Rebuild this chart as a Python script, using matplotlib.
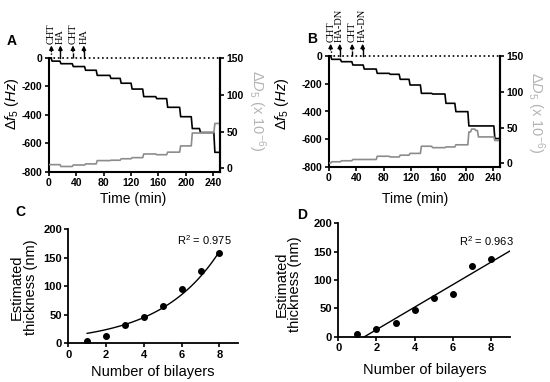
import numpy as np
import matplotlib
matplotlib.use("Agg")
import matplotlib.pyplot as plt
import matplotlib.transforms as mtrans

plt.rcParams['font.family'] = ['Liberation Sans', 'DejaVu Sans']
plt.rcParams['axes.unicode_minus'] = False
plt.rcParams['mathtext.fontset'] = 'custom'
plt.rcParams['mathtext.rm'] = 'Liberation Sans'
plt.rcParams['mathtext.it'] = 'Liberation Sans:italic'
plt.rcParams['mathtext.bf'] = 'Liberation Sans:bold'

# ---------------- data ----------------
# Panel A (CHT/HA) QCM-D steps
tA_f = [0, 3, 16, 34, 52, 69, 89, 104, 120, 137, 156, 172, 191, 208, 220, 241]
fA = [0, -22, -40, -60, -86, -122, -143, -177, -218, -271, -285, -346, -412, -495, -523, -662]
tA_d = [0, 3, 16, 34, 52, 69, 89, 104, 120, 137, 156, 172, 191, 208, 220, 241]
dA = [5, 5, 2.5, 4.5, 6, 10.5, 11, 13, 14.5, 19.5, 18.5, 22, 30.5, 48, 48.5, 61]
arrowsA_t = [3.5, 16.7, 35, 51]
arrowsA_lab = ['CHT', 'HA', 'CHT', 'HA']

# Panel B (CHT/HA-DN)
tB_f = [0, 2.5, 16.7, 33.4, 50, 69, 88, 102.6, 117, 133.6, 150, 169.5, 184, 203, 241]
fB = [0, -24, -41, -65, -94, -125, -132, -168, -209, -269, -274, -341, -401, -504, -595]
tB_d = [0, 2.5, 16.7, 33.4, 69, 88, 102.6, 117, 133.6, 150, 169.5, 184, 203, 207, 213, 217, 241]
dB = [0.5, 2.3, 3.7, 5.5, 10, 9, 11.5, 14, 24, 22, 23, 26, 44, 48, 46, 37, 32]
arrowsB_t = [2.4, 15.7, 33.9, 49.2]
arrowsB_lab = ['CHT', 'HA-DN', 'CHT', 'HA-DN']
t_end = 250

# Panel C / D thickness
bilayers = [1, 2, 3, 4, 5, 6, 7, 8]
thickC = [4.5, 12, 32, 47, 65, 96, 126, 158]
thickD = [4, 13, 25, 47, 69, 76, 125, 137]
fitC_a, fitC_b = 12.75, 0.317   # exponential fit y = a*exp(b*x)
r2C = '0.975'
r2D = '0.963'

# ---------------- helpers ----------------
def step_path(ts, vals, tend, ramp=1.5):
    xs, ys = [ts[0]], [vals[0]]
    for i in range(1, len(ts)):
        xs += [ts[i], ts[i] + ramp]
        ys += [vals[i - 1], vals[i]]
    xs.append(tend)
    ys.append(vals[-1])
    return xs, ys

W, H = 550, 382
fig = plt.figure(figsize=(5.5, 3.82), dpi=100)

def ax_px(l, t, r, b):
    return fig.add_axes([l / W, 1 - b / H, (r - l) / W, (b - t) / H])

def boldticks(ax):
    for lb in ax.get_xticklabels() + ax.get_yticklabels():
        lb.set_fontweight('bold')

TICKFS = 7.5

def qcm_panel(ax, tf, fv, td, dv, arr_t, arr_lab, styles, lab_xy, rlab_xy, xl_xy):
    ax.set_xlim(0, 250)
    ax.set_ylim(-800, 0)
    ax.axhline(0, ls=':', color='k', lw=1.2, clip_on=False, zorder=1)
    xs, ys = step_path(tf, fv, t_end)
    ax.plot(xs, ys, color='black', lw=1.2, clip_on=False, zorder=3)
    ax.spines['top'].set_visible(False)
    for s in ['left', 'bottom', 'right']:
        ax.spines[s].set_linewidth(1.5)
    ax.set_xticks(range(0, 241, 40))
    ax.set_yticks(range(-800, 1, 200))
    ax.tick_params(direction='out', length=3, width=1.2, labelsize=TICKFS, pad=1.5)
    boldticks(ax)
    ax.set_xlabel('Time (min)', fontsize=10)
    ax.xaxis.set_label_coords(*xl_xy)
    ax.set_ylabel(r'$\Delta f_5\ (Hz)$', fontsize=10.5)
    ax.yaxis.set_label_coords(*lab_xy)
    ax.yaxis.label.set(va='center', ha='center')

    ax2 = ax.twinx()
    ax2.set_ylim(-5, 150)
    xs, ys = step_path(td, dv, t_end)
    ax2.plot(xs, ys, color='#8c8c8c', lw=1.2, zorder=2)
    for s in ['top', 'left', 'bottom']:
        ax2.spines[s].set_visible(False)
    ax2.spines['right'].set_linewidth(1.5)
    ax2.set_yticks([0, 50, 100, 150])
    ax2.tick_params(direction='out', length=3, width=1.2, labelsize=TICKFS, pad=1.5)
    boldticks(ax2)
    ax2.set_ylabel(r'$\Delta D_5$ (x 10$^{-6}$)', fontsize=10.5, color='#b4b4b4',
                   rotation=270)
    ax2.yaxis.set_label_coords(*rlab_xy)
    ax2.yaxis.label.set(va='center', ha='center')

    trans = mtrans.blended_transform_factory(ax.transData, ax.transAxes)
    for t, lab, st in zip(arr_t, arr_lab, styles):
        ax.plot([t, t], [1.0, 1.06], transform=trans, color='k', lw=1, ls=st,
                clip_on=False)
        ax.annotate('', xy=(t, 1.11), xytext=(t, 1.055),
                    xycoords=trans, textcoords=trans,
                    arrowprops=dict(arrowstyle='-|>', lw=1, color='k',
                                    shrinkA=0, shrinkB=0, mutation_scale=6))
        ax.text(t, 1.125, lab, transform=trans, rotation=90, ha='center',
                va='bottom', fontsize=7.5, family=['Liberation Serif', 'DejaVu Serif'])
    return ax2

axA = ax_px(49, 58, 220, 172)
qcm_panel(axA, tA_f, fA, tA_d, dA, arrowsA_t, arrowsA_lab, [':', '-', '--', '-'],
          (-0.215, 0.6), (1.216, 0.535), (0.49, -0.175))
axB = ax_px(329, 56, 500, 167)
qcm_panel(axB, tB_f, fB, tB_d, dB, arrowsB_t, arrowsB_lab, [':', '-', '--', '-'],
          (-0.277, 0.57), (1.21, 0.49), (0.503, -0.222))

def thick_panel(ax, x, y, ylab_xy, xlab_xy):
    ax.set_xlim(0, 9)
    ax.set_ylim(0, 200)
    ax.plot(x, y, 'o', color='black', ms=4, zorder=3)
    for s in ['top', 'right']:
        ax.spines[s].set_visible(False)
    for s in ['left', 'bottom']:
        ax.spines[s].set_linewidth(1.3)
    ax.set_xticks([0, 2, 4, 6, 8])
    ax.set_yticks([0, 50, 100, 150, 200])
    ax.tick_params(direction='out', length=3, width=1.2, labelsize=8, pad=1.5)
    boldticks(ax)
    ax.set_xlabel('Number of bilayers', fontsize=10.5)
    ax.xaxis.set_label_coords(*xlab_xy)
    ax.set_ylabel('Estimated\nthickness (nm)', fontsize=10.5, linespacing=1.0)
    ax.yaxis.set_label_coords(*ylab_xy)
    ax.yaxis.label.set(va='center', ha='center')

axC = ax_px(68.3, 229.3, 238.3, 343.3)
thick_panel(axC, bilayers, thickC, (-0.26, 0.496), (0.498, -0.19))
xc = np.linspace(1, 8, 100)
axC.plot(xc, fitC_a * np.exp(fitC_b * xc), color='black', lw=1)
axC.text(5.77, 181, 'R$^2$ = ' + r2C, fontsize=8, va='center')

axD = ax_px(338.3, 223.3, 510, 336.7)
thick_panel(axD, bilayers, thickD, (-0.291, 0.465), (0.505, -0.232))
slope, icpt = np.polyfit(bilayers, thickD, 1)
xd = np.array([0, 9])
axD.plot(xd, slope * xd + icpt, color='black', lw=1)
axD.text(6.34, 169, 'R$^2$ = ' + r2D, fontsize=8, va='center')

for lab, (px, py) in zip('ABCD', [(11.7, 41), (312, 39), (20, 211.7), (301.7, 215)]):
    fig.text(px / W, 1 - py / H, lab, fontsize=10, fontweight='bold',
             ha='center', va='center')

fig.savefig('out.png', dpi=100)
